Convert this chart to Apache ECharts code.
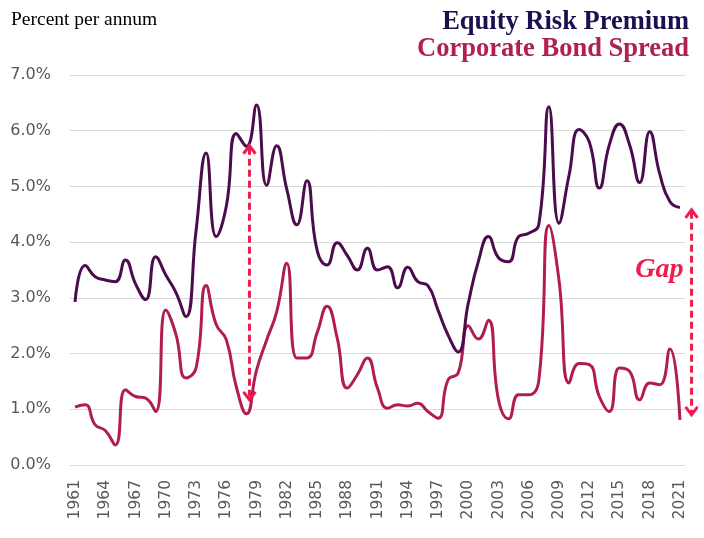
<!DOCTYPE html>
<html><head><meta charset="utf-8">
<script src="https://cdn.jsdelivr.net/npm/echarts@6/dist/echarts.min.js"></script>
<style>html,body{margin:0;padding:0;background:#fff}#c{width:704px;height:538px}</style>
</head><body><div id="c"></div>
<script>
const years = ['1961','1962','1963','1964','1965','1966','1967','1968','1969','1970',
'1971','1972','1973','1974','1975','1976','1977','1978','1979','1980',
'1981','1982','1983','1984','1985','1986','1987','1988','1989','1990',
'1991','1992','1993','1994','1995','1996','1997','1998','1999','2000',
'2001','2002','2003','2004','2005','2006','2007','2008','2009','2010',
'2011','2012','2013','2014','2015','2016','2017','2018','2019','2020','2021'];

const equityRiskPremium = [2.93,3.58,3.38,3.32,3.29,3.68,3.25,2.97,3.74,3.41,
3.10,2.66,4.20,5.60,4.10,4.64,5.95,5.72,6.46,5.02,
5.73,4.95,4.31,5.10,3.86,3.59,3.99,3.76,3.50,3.89,
3.50,3.56,3.18,3.55,3.29,3.22,2.78,2.33,2.03,2.90,
3.65,4.10,3.72,3.65,4.10,4.16,4.32,6.43,4.34,5.20,
6.02,5.80,4.97,5.75,6.12,5.75,5.07,5.98,5.22,4.73,4.62];

const corporateBondSpread = [1.04,1.08,0.72,0.62,0.36,1.35,1.23,1.20,0.96,2.78,
2.35,1.56,1.74,3.22,2.52,2.25,1.40,0.92,1.70,2.24,
2.75,3.62,1.92,1.92,2.37,2.85,2.28,1.38,1.62,1.92,
1.38,1.02,1.08,1.06,1.11,0.96,0.84,1.53,1.65,2.50,
2.26,2.60,1.17,0.83,1.26,1.26,1.52,4.30,3.32,1.47,
1.82,1.80,1.23,0.96,1.74,1.68,1.17,1.47,1.44,2.08,0.81];

const seriesNames = ['Equity Risk Premium','Corporate Bond Spread'];
const yTicks = {min:0, max:7, interval:1};
// annotation arrows: [category index position, from value, to value]
const arrow1 = {pos:17.3, top:5.73, bottom:1.17};
const arrow2 = {pos:61.15, top:4.58, bottom:0.90};
const gapLabel = 'Gap';
const gapLabelValue = 3.5;

const ERP_COLOR = '#4b0c4e';
const CBS_COLOR = '#b21d4f';
const ARROW_COLOR = '#ee1d4f';

const chart = echarts.init(document.getElementById('c'), null, {renderer:'canvas'});
chart.setOption({
  animation:false,
  backgroundColor:'#fff',
  title:{text:'Percent per annum', left:11, top:10, padding:0,
    textStyle:{fontFamily:'Liberation Serif', fontWeight:'normal', fontSize:19.5, color:'#000'}},
  legend:{right:10, top:9, padding:0, orient:'vertical', align:'right', icon:'none', itemWidth:0, itemGap:0,
    selectedMode:false,
    textStyle:{fontFamily:'Liberation Serif', fontWeight:'bold', fontSize:26.5},
    data:[{name:seriesNames[0], textStyle:{color:'#1c1150'}},{name:seriesNames[1], textStyle:{color:'#b0214f'}}]},
  grid:{left:70, right:19, top:75, bottom:73, containLabel:false},
  xAxis:{type:'category', data:years, boundaryGap:true,
    axisLine:{show:false}, axisTick:{show:false},
    axisLabel:{interval:2, rotate:90, margin:15, color:'#595959', fontFamily:'DejaVu Sans', fontSize:15.5}},
  yAxis:{type:'value', min:yTicks.min, max:yTicks.max, interval:yTicks.interval,
    axisLine:{show:false}, axisTick:{show:false},
    splitLine:{lineStyle:{color:'#d9d9d9', width:1}},
    axisLabel:{margin:19, color:'#595959', fontFamily:'DejaVu Sans', fontSize:16,
      formatter:v=>v.toFixed(1)+'%'}},
  series:[
    {name:seriesNames[0], type:'line', data:equityRiskPremium, smooth:0.5, showSymbol:false, symbol:'none',
      lineStyle:{color:ERP_COLOR, width:3}, itemStyle:{color:ERP_COLOR}, z:3},
    {name:seriesNames[1], type:'line', data:corporateBondSpread, smooth:0.5, showSymbol:false, symbol:'none',
      lineStyle:{color:CBS_COLOR, width:3}, itemStyle:{color:CBS_COLOR}, z:2}
  ]
});

function px(pos, val){
  const a = chart.convertToPixel({gridIndex:0}, [0, val]);
  const p0 = chart.convertToPixel({gridIndex:0}, [0, 0]);
  const p1 = chart.convertToPixel({gridIndex:0}, [1, 0]);
  const step = p1[0]-p0[0];
  return [p0[0] + pos*step, a[1]];
}
function arrowGraphics(ar){
  const t = px(ar.pos, ar.top), b = px(ar.pos, ar.bottom);
  const x = t[0];
  const hw = 6, hh = 8;
  const st = {stroke:ARROW_COLOR, lineWidth:3, fill:null};
  return [
    {type:'line', shape:{x1:x, y1:t[1]+2, x2:x, y2:b[1]-2}, style:{stroke:ARROW_COLOR, lineWidth:3, lineDash:[7,4]}, z:10},
    {type:'polyline', shape:{points:[[x-hw,t[1]+hh],[x,t[1]],[x+hw,t[1]+hh]]}, style:st, z:10},
    {type:'polyline', shape:{points:[[x-hw,b[1]-hh],[x,b[1]],[x+hw,b[1]-hh]]}, style:st, z:10}
  ];
}
const g = [].concat(arrowGraphics(arrow1), arrowGraphics(arrow2));
const gp = px(arrow2.pos, gapLabelValue);
g.push({type:'text', x:gp[0]-8, y:gp[1], z:10,
  style:{text:gapLabel, textAlign:'right', textVerticalAlign:'middle', fill:ARROW_COLOR,
    font:'italic bold 28px "Liberation Serif"'}});
chart.setOption({graphic:g});
</script>
</body></html>
